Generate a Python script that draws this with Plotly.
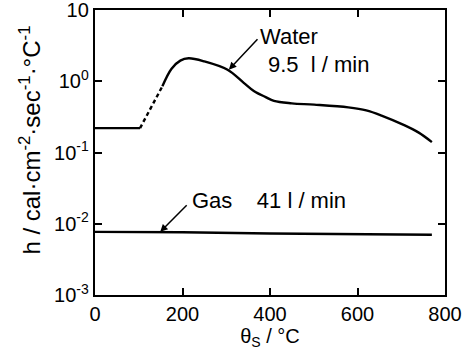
import math
import plotly.graph_objects as go

# Water 9.5 l/min
water_flat_x = [0, 103]
water_flat_y = [0.22, 0.22]
water_dash_x = [103, 128, 154]
water_dash_y = [0.22, 0.42, 0.85]
water_x = [154, 175, 195, 214, 250, 303, 340, 363, 390, 409, 450, 501, 579, 620, 655, 708, 740, 770]
water_y = [0.85, 1.5, 1.95, 2.1, 1.9, 1.45, 0.95, 0.73, 0.6, 0.53, 0.49, 0.47, 0.43, 0.39, 0.33, 0.24, 0.19, 0.14]
# Gas 41 l/min
gas_x = [0, 200, 400, 600, 770]
gas_y = [0.0077, 0.0076, 0.0073, 0.0071, 0.0070]

x_ticks = [0, 200, 400, 600, 800]
y_ticks = [0.001, 0.01, 0.1, 1, 10]
y_ticktext = ["10<sup>-3</sup>", "10<sup>-2</sup>", "10<sup>-1</sup>", "10<sup>0</sup>", "10"]

line = dict(color="black", width=2.4)
fig = go.Figure()
fig.add_trace(go.Scatter(x=water_flat_x, y=water_flat_y, mode="lines", line=line))
fig.add_trace(go.Scatter(x=water_dash_x, y=water_dash_y, mode="lines",
                         line=dict(color="black", width=2.4, dash="4px,3px")))
fig.add_trace(go.Scatter(x=water_x, y=water_y, mode="lines", line=dict(color="black", width=2.4, shape="spline")))
fig.add_trace(go.Scatter(x=gas_x, y=gas_y, mode="lines", line=line))

FF = "Liberation Sans, Arial, sans-serif"
fnt = dict(family=FF, size=20, color="black")
afnt = dict(family=FF, size=22, color="black")
L = math.log10
fig.add_annotation(x=306, y=L(1.45), ax=30, ay=-32,
                   text="", showarrow=True, arrowhead=2, arrowsize=1, arrowwidth=1.5,
                   arrowcolor="black")
fig.add_annotation(x=372, y=L(4.2), text="Water", showarrow=False,
                   xanchor="left", yanchor="middle", font=afnt)
fig.add_annotation(x=390, y=L(1.7), text="9.5  l / min", showarrow=False,
                   xanchor="left", yanchor="middle", font=afnt)
fig.add_annotation(x=149, y=L(0.0077), text="", showarrow=True, arrowhead=2, arrowwidth=1.5,
                   arrowcolor="black", ax=28, ay=-28)
fig.add_annotation(x=216, y=L(0.021), text="Gas    41 l / min", showarrow=False,
                   xanchor="left", yanchor="middle", font=afnt)
# y-axis title as rotated annotation so it sits where the reference has it
fig.add_annotation(xref="paper", yref="paper", x=-0.186, y=0.545, textangle=-90,
                   text="h / cal·cm<sup>-2</sup>·sec<sup>-1</sup>·°C<sup>-1</sup>",
                   showarrow=False, xanchor="center", yanchor="middle",
                   font=dict(family=FF, size=24, color="black"))

axis_common = dict(showline=True, linecolor="black", linewidth=2.4, mirror="ticks",
                   ticks="inside", ticklen=7, tickwidth=1.8, tickcolor="black",
                   showgrid=False, zeroline=False, automargin=False,
                   ticklabeloverflow="allow")
fig.update_xaxes(range=[0, 800], tickvals=x_ticks, ticktext=[str(v) for v in x_ticks],
                 tickfont=fnt,
                 title=dict(text="θ<sub>S</sub> / °C", font=dict(family=FF, size=20, color="black"), standoff=0),
                 **axis_common)
fig.update_yaxes(type="log", range=[-3, 1], tickvals=y_ticks, ticktext=y_ticktext,
                 tickfont=dict(family=FF, size=20, color="black"), **axis_common)
fig.update_layout(width=470, height=354, margin=dict(l=95, r=25, t=10, b=59),
                  plot_bgcolor="white", paper_bgcolor="white", showlegend=False,
                  font=fnt)
fig.write_html("out.html", config={"displayModeBar": False},
               post_script="document.body.style.margin='0';document.body.style.overflow='hidden';")
